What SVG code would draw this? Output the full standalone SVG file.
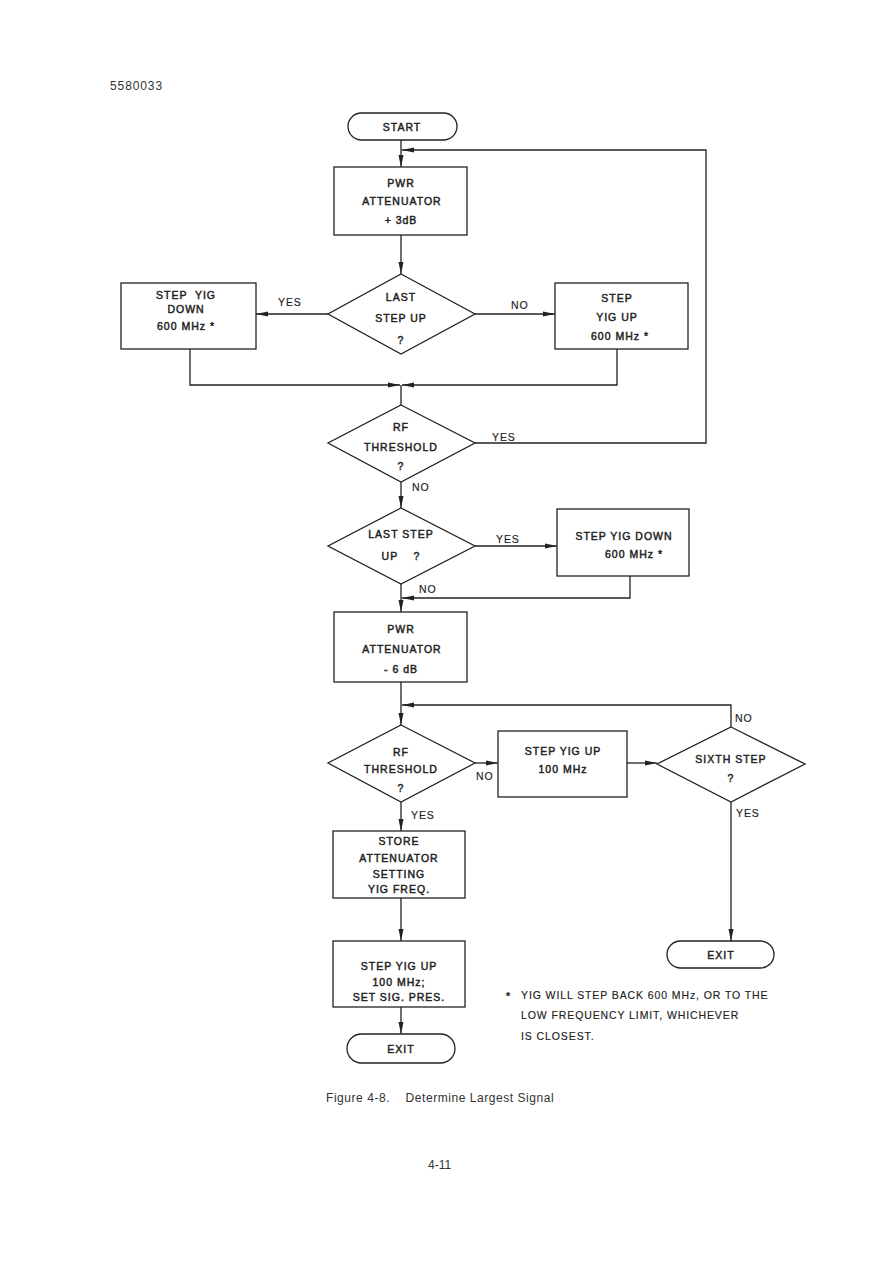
<svg xmlns="http://www.w3.org/2000/svg" width="876" height="1265" viewBox="0 0 876 1265">
<defs>
<marker id="ah" viewBox="0 0 12 6" refX="12" refY="3" markerWidth="12" markerHeight="6" markerUnits="userSpaceOnUse" orient="auto">
<path d="M0,0.5 L12,3 L0,5.5 Z" fill="#222"/>
</marker>
<style>
.s{fill:#fff;stroke:#222;stroke-width:1.3}
.c{fill:none;stroke:#222;stroke-width:1.3}
.t{font-family:"Liberation Sans",Arial,sans-serif;font-size:10.5px;letter-spacing:1px;fill:#222;stroke:#222;stroke-width:0.45px;text-anchor:middle}
.l{font-family:"Liberation Sans",Arial,sans-serif;font-size:10.5px;letter-spacing:0.9px;fill:#222;stroke:#222;stroke-width:0.15px}
.p{font-family:"Liberation Sans",Arial,sans-serif;font-size:12px;fill:#333}
</style>
</defs>
<rect width="876" height="1265" fill="#fff"/>
<text class="p" x="110" y="90" letter-spacing="0.9">5580033</text>

<g id="connectors">
<path class="c" d="M401,140 V167" marker-end="url(#ah)"/>
<path class="c" d="M475,443 H706 V150 H402" marker-end="url(#ah)"/>
<path class="c" d="M401,235 V274" marker-end="url(#ah)"/>
<path class="c" d="M328,314 H256" marker-end="url(#ah)"/>
<path class="c" d="M475,314 H555" marker-end="url(#ah)"/>
<path class="c" d="M190,349 V385 H400" marker-end="url(#ah)"/>
<path class="c" d="M617,349 V385 H402" marker-end="url(#ah)"/>
<path class="c" d="M401,385 V405"/>
<path class="c" d="M401,482 V508" marker-end="url(#ah)"/>
<path class="c" d="M475,546 H557" marker-end="url(#ah)"/>
<path class="c" d="M401,584 V612" marker-end="url(#ah)"/>
<path class="c" d="M630,576 V598 H402" marker-end="url(#ah)"/>
<path class="c" d="M401,682 V725" marker-end="url(#ah)"/>
<path class="c" d="M731,727 V705 H402" marker-end="url(#ah)"/>
<path class="c" d="M475,763 H498" marker-end="url(#ah)"/>
<path class="c" d="M627,763 H657" marker-end="url(#ah)"/>
<path class="c" d="M401,802 V831" marker-end="url(#ah)"/>
<path class="c" d="M731,802 V941" marker-end="url(#ah)"/>
<path class="c" d="M401,898 V941" marker-end="url(#ah)"/>
<path class="c" d="M401,1007 V1034" marker-end="url(#ah)"/>
<text class="l" x="278" y="306">YES</text>
<text class="l" x="511" y="309">NO</text>
<text class="l" x="492" y="441">YES</text>
<text class="l" x="412" y="491">NO</text>
<text class="l" x="496" y="543">YES</text>
<text class="l" x="419" y="593">NO</text>
<text class="l" x="735" y="722">NO</text>
<text class="l" x="476" y="780">NO</text>
<text class="l" x="411" y="819">YES</text>
<text class="l" x="736" y="817">YES</text>
</g>

<g id="start">
<rect class="s" x="348" y="113" width="109" height="27" rx="13.5"/>
<text class="t" x="402" y="131">START</text>
</g>
<g id="pwr1">
<rect class="s" x="334" y="167" width="133" height="68"/>
<text class="t" x="401" y="187">PWR</text>
<text class="t" x="402" y="205">ATTENUATOR</text>
<text class="t" x="401" y="224">+ 3dB</text>
</g>
<g id="laststep1">
<polygon class="s" points="401,274 475,314 401,354 328,314"/>
<text class="t" x="401" y="301">LAST</text>
<text class="t" x="401" y="322">STEP UP</text>
<text class="t" x="401" y="344">?</text>
</g>
<g id="yigdown1">
<rect class="s" x="121" y="283" width="135" height="66"/>
<text class="t" x="186" y="299" xml:space="preserve">STEP  YIG</text>
<text class="t" x="186" y="313">DOWN</text>
<text class="t" x="186" y="330">600 MHz *</text>
</g>
<g id="yigup1">
<rect class="s" x="555" y="283" width="133" height="66"/>
<text class="t" x="617" y="302">STEP</text>
<text class="t" x="617" y="321">YIG UP</text>
<text class="t" x="620" y="340">600 MHz *</text>
</g>
<g id="rf1">
<polygon class="s" points="401,405 475,443 401,482 328,443"/>
<text class="t" x="401" y="431">RF</text>
<text class="t" x="401" y="451">THRESHOLD</text>
<text class="t" x="401" y="470">?</text>
</g>
<g id="laststep2">
<polygon class="s" points="401,508 475,546 401,584 328,546"/>
<text class="t" x="401" y="538">LAST STEP</text>
<text class="t" x="401" y="560" xml:space="preserve">UP    ?</text>
</g>
<g id="yigdown2">
<rect class="s" x="557" y="509" width="132" height="67"/>
<text class="t" x="624" y="540">STEP YIG DOWN</text>
<text class="t" x="634" y="558">600 MHz *</text>
</g>
<g id="pwr2">
<rect class="s" x="334" y="612" width="133" height="70"/>
<text class="t" x="401" y="633">PWR</text>
<text class="t" x="402" y="653">ATTENUATOR</text>
<text class="t" x="401" y="673">- 6 dB</text>
</g>
<g id="rf2">
<polygon class="s" points="401,725 475,763 401,802 328,763"/>
<text class="t" x="401" y="756">RF</text>
<text class="t" x="401" y="773">THRESHOLD</text>
<text class="t" x="401" y="792">?</text>
</g>
<g id="yigup2">
<rect class="s" x="498" y="731" width="129" height="66"/>
<text class="t" x="563" y="755">STEP YIG UP</text>
<text class="t" x="563" y="773">100 MHz</text>
</g>
<g id="sixth">
<polygon class="s" points="731,727 805,764 731,802 657,764"/>
<text class="t" x="731" y="763">SIXTH STEP</text>
<text class="t" x="731" y="782">?</text>
</g>
<g id="store">
<rect class="s" x="333" y="831" width="132" height="67"/>
<text class="t" x="399" y="845">STORE</text>
<text class="t" x="399" y="862">ATTENUATOR</text>
<text class="t" x="399" y="878">SETTING</text>
<text class="t" x="399" y="893">YIG FREQ.</text>
</g>
<g id="yigup3">
<rect class="s" x="333" y="941" width="132" height="66"/>
<text class="t" x="399" y="970">STEP YIG UP</text>
<text class="t" x="399" y="986">100 MHz;</text>
<text class="t" x="399" y="1001">SET SIG. PRES.</text>
</g>
<g id="exit1">
<rect class="s" x="347" y="1034" width="108" height="29" rx="14.5"/>
<text class="t" x="401" y="1053">EXIT</text>
</g>
<g id="exit2">
<rect class="s" x="667" y="941" width="107" height="27" rx="13.5"/>
<text class="t" x="721" y="959">EXIT</text>
</g>
<g id="footnote">
<text class="l" x="506" y="1000" font-weight="bold" font-size="14">*</text>
<text class="l" x="521" y="999">YIG WILL STEP BACK 600 MHz, OR TO THE</text>
<text class="l" x="521" y="1019">LOW FREQUENCY LIMIT, WHICHEVER</text>
<text class="l" x="521" y="1040">IS CLOSEST.</text>
</g>
<text class="p" x="326" y="1102" letter-spacing="0.55" xml:space="preserve">Figure 4-8.    Determine Largest Signal</text>
<text class="p" x="428" y="1169">4-11</text>
</svg>
